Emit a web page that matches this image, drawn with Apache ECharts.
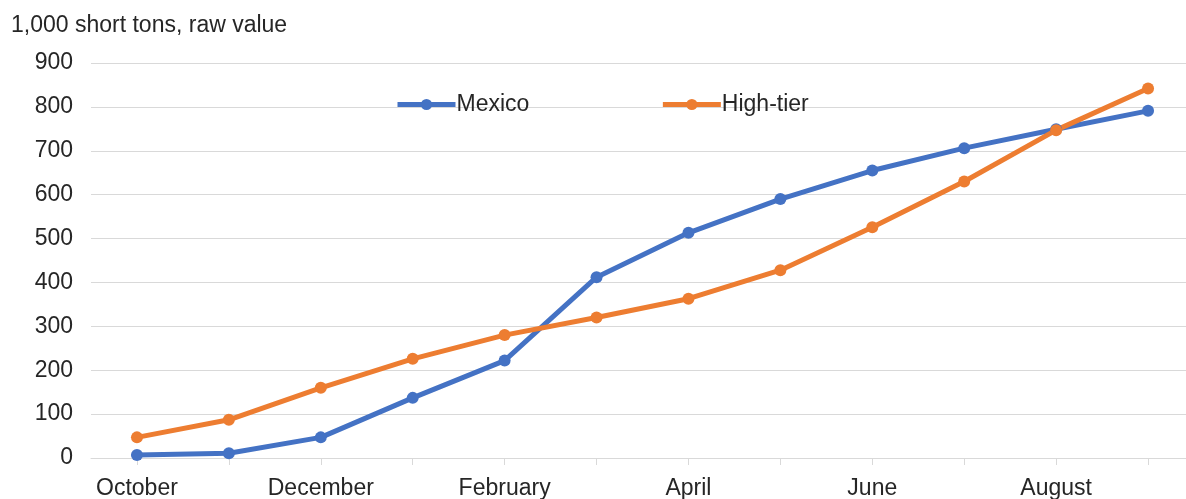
<!DOCTYPE html>
<html>
<head>
<meta charset="utf-8">
<script src="https://cdn.jsdelivr.net/npm/echarts@6/dist/echarts.min.js"></script>
<style>
html,body{margin:0;padding:0;background:#fff;}
#c{width:1186px;height:499px;}
</style>
</head>
<body>
<div id="c"></div>
<script>
const categories = ["October","November","December","January","February","March","April","May","June","July","August","September"];
const mexico = [7, 11, 47, 137, 222, 412, 513, 590, 655, 706, 749, 791];
const highTier = [47, 87, 160, 226, 280, 320, 363, 428, 526, 630, 747, 842];
const yTicks = { min: 0, max: 900, interval: 100 };
const unitLabel = "1,000 short tons, raw value";

const chart = echarts.init(document.getElementById('c'));
const font = '"Liberation Sans", Arial, sans-serif';
chart.setOption({
  animation: false,
  backgroundColor: '#ffffff',
  title: {
    text: unitLabel,
    left: 6, top: 9,
    textStyle: { fontFamily: font, fontSize: 23, fontWeight: 'normal', color: '#262626' }
  },
  legend: {
    left: 390, top: 88,
    itemWidth: 58, itemHeight: 14, itemGap: 131,
    lineStyle: { width: 5 },
    textStyle: { fontFamily: font, fontSize: 23, color: '#262626', padding: [0,0,0,-4] },
    data: ['Mexico', 'High-tier']
  },
  grid: { left: 91, top: 63, width: 1103, bottom: 41, containLabel: false, outerBoundsMode: 'none' },
  xAxis: {
    type: 'category',
    data: categories,
    boundaryGap: true,
    axisLine: { lineStyle: { color: '#d9d9d9', width: 1 } },
    axisTick: { show: true, alignWithLabel: true, interval: 0, length: 7, lineStyle: { color: '#d9d9d9' } },
    axisLabel: { interval: 1, margin: 19, fontFamily: font, fontSize: 23, color: '#262626' }
  },
  yAxis: {
    type: 'value',
    min: yTicks.min, max: yTicks.max, interval: yTicks.interval,
    axisLine: { show: false },
    axisTick: { show: false },
    splitLine: { lineStyle: { color: '#d9d9d9', width: 1 } },
    axisLabel: { margin: 18, fontFamily: font, fontSize: 23, color: '#262626' }
  },
  series: [
    {
      name: 'Mexico', type: 'line', data: mexico,
      symbol: 'circle', symbolSize: 12,
      lineStyle: { width: 5, color: '#4472C4' },
      itemStyle: { color: '#4472C4' }
    },
    {
      name: 'High-tier', type: 'line', data: highTier,
      symbol: 'circle', symbolSize: 12,
      lineStyle: { width: 5, color: '#ED7D31' },
      itemStyle: { color: '#ED7D31' }
    }
  ]
});
</script>
</body>
</html>
